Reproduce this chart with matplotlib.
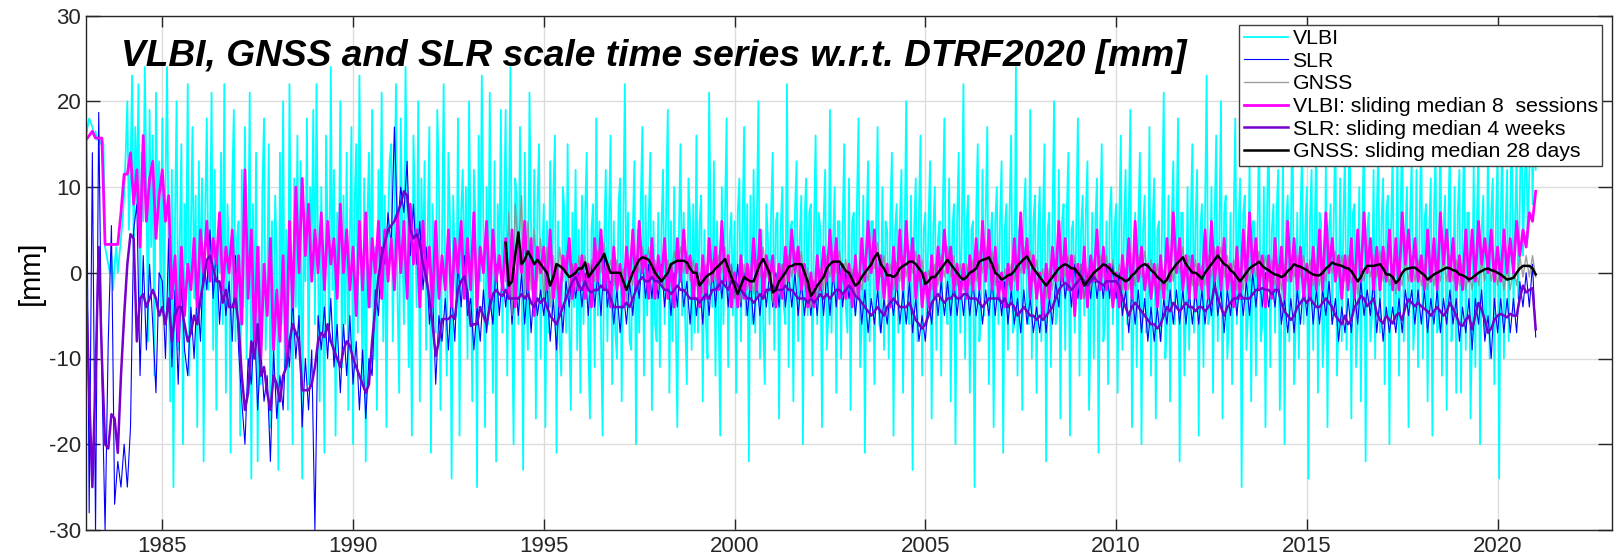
import matplotlib
matplotlib.use("Agg")
import matplotlib.pyplot as plt
import numpy as np

plt.rcParams['font.family'] = ['Liberation Sans', 'DejaVu Sans']
plt.rcParams['axes.unicode_minus'] = False

# VLBI scale per session (24 values per year, 1983.0 .. 2021.0) [mm]
vlbi = [
    16, 17, 18, 17.5, 17, 16, 16.5, 15.5, 16, 15, 15.5, 15, 3, 2, 1, 0, 2, -2, 1, 3, 0, 2, 4, 6,
    9, 14, 20, 5, 12, 23, 2, 17, 8, 22, -3, 14, 6, 24, 11, -8, 19, 3, 16, -12, 21, 7, 13, -5,
    18, -6, 10, 24, 2, -15, 12, -25, 6, 20, -9, 4, 15, -20, 8, 1, 22, -12, 5, 17, -3, 9, -18, 13,
    -4, 11, -22, 7, 18, -2, 3, 21, -9, 12, -16, 5, 0, 14, -6, 22, -14, 8, 2, -21, 10, 19, -8, 4,
    6, -19, 12, -4, 17, -10, 1, 21, -24, 8, -7, 14, -22, 3, -13, 10, 18, -9, -2, 15, -18, 6, -12, 9,
    2, -23, 14, -6, 20, -11, 5, -16, 22, 0, -20, 11, -4, 16, -9, 13, -24, 7, -1, 18, -13, 10, 3, 19,
    -6, 22, 1, -15, 10, -3, -21, 16, 5, -8, 24, -2, 12, -19, 7, 0, 20, -11, 9, -6, 14, -16, 4, 17,
    -20, 8, 15, -7, 23, 2, -13, 11, -22, 6, 14, -4, 19, -10, 3, -16, 12, 1, 21, -8, 9, -18, 5, 13,
    15, -8, 6, 22, -3, -14, 18, 4, -6, 24, 9, -11, 2, -19, 16, 7, -4, 20, -15, 11, 0, 13, -9, 5,
    17, -21, 8, 2, -7, 19, 11, -16, 4, 22, -2, -12, 14, 6, -24, 9, 1, -5, 18, -19, 7, 12, -3, 10,
    -10, 20, 3, -15, 12, 7, -25, 16, -1, 23, 5, -18, 10, -6, 21, 2, -14, 13, -22, 8, 0, 19, -7, 6,
    19, -12, 6, 24, -4, -20, 11, 9, -6, 17, 3, -23, 14, -2, -9, 21, 5, -4, 12, -17, 8, 15, -10, 2,
    8, -18, 6, -7, 13, -5, 9, 16, -21, 6, -8, -12, 10, 7, -7, 15, -6, -16, 7, -4, 12, -9, 5, -14,
    9, -6, 7, 14, -8, -17, 5, 8, -11, 18, -5, 6, -7, -19, 4, 12, -8, 6, 16, -13, 6, -7, -10, 8,
    11, -15, 6, 22, -4, 7, -8, -9, 5, 13, -20, 5, -7, 8, 17, -12, 9, -5, 6, 14, -16, 6, -6, -8,
    7, -11, 5, 12, -6, 8, 19, -14, 6, -8, 10, -5, -18, 5, 15, -5, 7, -6, -13, 11, 6, -9, 8, -7,
    16, -7, 6, 9, -15, 5, -6, -10, 21, 5, -4, 13, -12, 6, -5, -19, 10, -6, 7, 18, -11, 4, 7, -5,
    6, -14, 7, 11, -8, 5, 17, -5, 8, -22, 9, -6, 12, -7, 6, 20, -10, 5, -6, -13, 8, 4, -6, 7,
    14, -9, 6, 7, -17, 5, 10, -4, -6, 22, -11, 5, 6, -15, 7, 13, -8, 4, 9, -20, 6, 11, -5, 7,
    8, -12, 5, 16, -6, 7, 5, -18, 6, 12, -9, -5, 19, -7, 4, 10, -14, 6, 6, -10, 5, 15, -4, -7,
    11, -16, 6, 7, -5, 8, 18, -11, -6, 9, -21, 5, 13, -8, 6, 6, -13, 5, 17, -6, -7, 10, -9, 6,
    5, -10, 7, 14, -19, 5, 8, -7, 6, 12, -14, 4, 20, -5, -6, 9, -23, 5, 11, -8, 7, 16, -12, 5,
    7, -6, 6, 13, -17, 5, 10, -9, 4, 6, -12, 7, 18, -4, -6, 11, -15, 5, 8, -20, 6, 14, -7, 5,
    22, -10, 6, 9, -14, 5, 6, -25, 7, 15, -8, -5, 12, -5, 7, 17, -13, 4, 7, -18, 6, 10, -6, 6,
    13, -21, 5, 8, -9, 7, 16, -7, -6, 24, -12, 5, 6, -16, 7, 11, -5, -6, 19, -10, 6, 9, -14, 5,
    10, -8, 6, 15, -22, 5, 7, -11, 6, 20, -6, -5, 12, -17, 6, 8, -9, 7, 14, -19, 5, 6, -7, 6,
    18, -12, 5, 9, -5, 7, 13, -16, -6, 7, -10, 6, 11, -21, 5, 15, -8, -6, 6, -13, 7, 10, -6, 5,
    8, -14, 6, 16, -9, 5, 12, -6, 7, 19, -18, -5, 7, -11, 6, 14, -20, 5, 9, -7, -6, 17, -12, 6,
    11, -17, 5, 6, -8, 7, 21, -10, -6, 9, -15, 6, 13, -6, 5, 18, -22, 7, 7, -12, -5, 10, -9, 6,
    15, -7, 6, 12, -19, 5, 8, -11, 7, 23, -6, -5, 10, -14, 6, 16, -8, 5, 20, -17, 7, 9, -10, -6,
    7, -13, 6, 18, -6, 5, 11, -25, 7, 9, -9, -5, 14, -15, 6, 6, -12, 5, 17, -8, -6, 10, -18, 7,
    19, -11, 5, 8, -7, 7, 12, -16, -5, 15, -20, 6, 9, -8, 5, 21, -13, -6, 7, -10, 7, 14, -6, 5,
    10, -24, 6, 12, -9, 5, 16, -14, 7, 6, -11, -6, 13, -18, 5, 8, -6, 7, 17, -12, -5, 11, -8, 6,
    14, -9, 5, 20, -17, 7, 8, -11, -6, 10, -15, 6, 18, -22, 5, 7, -8, -5, 12, -10, 7, 15, -7, 6,
    11, -13, 7, 9, -20, 5, 14, -6, -6, 16, -12, 6, 19, -8, 5, 10, -18, 7, 13, -9, -5, 12, -11, 6,
    17, -10, 6, 8, -15, 5, 11, -19, 7, 14, -7, -6, 21, -12, 5, 9, -16, 6, 15, -8, -5, 10, -14, 7,
    12, -14, 5, 18, -9, 7, 7, -17, -6, 13, -11, 6, 15, -20, 5, 9, -7, -5, 16, -10, 7, 11, -13, 6,
    14, -24, 6, 17, -10, 5, 12, -8, 7, 19, -5, 6, 13, -3, 8, 22, 2, 10, 16, 4, 12, 26, 8, 18,
    12,
]

# SLR scale, weekly solutions thinned to 12 per year (1983.0 .. 2021.0)
slr = [
    26, -28, 14, -30, 18.7, -12, -30, -8, 5.5, -27, -22, -25,
    -20, -25, -18, 5, 8, -12, 2, -9, 1, -6, -14, 0,
    -1, -10, 4, -11, -2, -13, -1, -9, -12, -4, -10, -2,
    -8, 2, -2, 5, -3, 3, -6, 0, -5, -1, -8, 2,
    -9, -15, -20, -10, -13, -6, -16, -9, -15, -12, -22, -9,
    -17, -12, -16, -7, -11, -3, -10, -5, -18, -10, -16, -9,
    -30, -5, -9, -4, -10, -3, -11, -6, -14, -6, -12, -5,
    -13, -8, -16, -9, -17, -10, -12, -2, -5, 3, 1, 7,
    3, 17, 5, 10, 7, 13, 2, 8, 1, 6, -2, 3,
    -6, -2, -13, -5, -8, -3, -9, -2, -8, 1, -4, 2,
    -5, -3, -9, -4, -8, -2, -7, -3, -6, 1, -5, 0,
    -4, 0, -6, -1, -5, 0, -6, 0, -7, -1, -5, -2,
    -5, -1, -8, -3, -9, -2, -7, -1, -4, 1, -3, 0,
    -4, 0, -5, 1, -4, 0, -5, 2, -4, -1, -6, -2,
    -7, -2, -6, -1, -5, 0, -3, 2, -3, 1, -3, 1,
    -3, 1, -4, 0, -5, 0, -4, 1, -4, -1, -6, -1,
    -5, -1, -6, 0, -5, 1, -4, 1, -3, 1, -4, 1,
    -3, 1, -4, 0, -5, -1, -6, -1, -5, 0, -4, 0,
    -4, 0, -4, 1, -4, 0, -4, 0, -5, -1, -5, -1,
    -5, -1, -5, 0, -5, 0, -5, 0, -4, 1, -4, 0,
    -3, 0, -5, -1, -6, -2, -7, -3, -6, -2, -7, -3,
    -6, -2, -5, -1, -6, -2, -6, -1, -7, -3, -8, -5,
    -8, -3, -6, -1, -5, -1, -5, -1, -5, -1, -5, -1,
    -5, -1, -5, -1, -5, -2, -6, -2, -5, -1, -5, -1,
    -5, -1, -6, -2, -6, -3, -7, -2, -6, -3, -7, -4,
    -7, -3, -7, -3, -6, -1, -4, 1, -3, 0, -4, 1,
    -3, 1, -3, 0, -3, 1, -3, 0, -3, 1, -3, 1,
    -3, 0, -5, -2, -7, -2, -6, -2, -7, -3, -8, -4,
    -8, -4, -8, -3, -6, -2, -6, -2, -6, -2, -6, -2,
    -6, -2, -6, -2, -6, -2, -5, 0, -5, -2, -7, -2,
    -5, -1, -5, -1, -5, -1, -5, 0, -4, 0, -4, 0,
    -4, -1, -4, 0, -6, -3, -7, -3, -7, -2, -6, -1,
    -5, -1, -6, -2, -6, -2, -5, -1, -6, -3, -8, -4,
    -7, -3, -7, -2, -6, -1, -5, -2, -5, -1, -7, -3,
    -8, -4, -7, -4, -7, -3, -7, -2, -5, -2, -6, -2,
    -6, -2, -7, -3, -6, -2, -7, -3, -6, -2, -6, -3,
    -8, -4, -7, -3, -9, -3, -6, -2, -8, -5, -10, -3,
    -7, -3, -7, -3, -7, -3, -7, -1, -4, 0, -4, 1,
    -7.5,
]

# GNSS scale, daily solutions thinned to 12 per year (1994.0 .. 2021.0)
gnss = [
    -1, 7, -5, 8, 2, 9, -3, 6, -2, 5, -1, 4,
    -3, 3, -4, 2, -2, 3, -1, 2, -2, 1, -2, 2,
    -1, 2, -2, 1.5, -1, 2.5, 0, 3.5, -0.5, 1.5, -1.5, 1.5,
    -1.5, 0.5, -3.5, 0.5, -1.5, 2, 0, 3, 0.5, 3, -0.5, 1.5,
    -2, 0.5, -2, 1.5, -0.5, 2.5, 0, 3, 0, 2.5, -1, 1.5,
    -1.5, 0, -2.5, 1, -1.5, 1.5, -1, 2, 0, 3, -1, 1,
    -3, -1, -3.5, 1, -2, 0.5, -2.5, 1.5, -0.5, 3, -0.5, 1.5,
    -3.5, -0.5, -2.5, 1, -1.5, 2, -0.5, 2.5, -0.5, 2.5, -1.5, 0.5,
    -4, -1, -3, 0.5, -2, 2, -0.5, 2.5, 0, 2.5, -0.5, 1.5,
    -1.5, 0.5, -3, 0, -2, 1.5, -1, 2.5, 0.5, 3.5, -0.5, 2,
    -1.5, 1, -2, 1.2, -1, 2, -0.5, 2.5, 0, 2.5, -1, 1.5,
    -2.5, 0.3, -2, 1, -1.5, 2, -0.5, 3, -0.5, 2, -1.5, 1,
    -2, 1, -1.5, 1.5, -1, 2.5, 0, 3, 0.5, 2.5, -1.5, 1,
    -2, 0.5, -1.5, 1, -1, 2, 0, 3, 0.5, 2.5, -1, 1.5,
    -1.5, 0.5, -3, 0.5, -2, 1.5, -1, 2, -0.5, 2, -1, 2,
    -1.5, 1, -3, 0.5, -2, 1.5, -1, 2, -0.5, 2, -1, 1.5,
    -1.5, 1, -2, 0.5, -2, 1, -1.5, 2, -0.5, 2.5, -0.5, 1.5,
    -1.5, 1, -2, 0.3, -2, 1.5, -1, 2.5, 0, 3, -0.5, 2,
    -1.5, 1.5, -1.5, 0.8, -1.5, 2, -0.5, 3, 0.5, 3, -0.5, 2,
    -1, 1.5, -2, 0.5, -2, 1.5, -1, 2, -0.5, 2.5, -0.5, 2,
    -1, 1.5, -1.5, 1, -2, 1, -1, 2, -0.5, 2, -0.5, 2,
    -1, 1.5, -1.5, 1, -1.5, 1.5, -1, 2, 0, 2.5, -0.5, 2,
    -1, 2, -1.2, 1, -2.5, 1, -1, 2, -0.5, 2, -0.5, 2.5,
    -1, 1.3, -1.5, 1, -2.5, 0.5, -1.5, 1.5, -1, 2, -1, 1.5,
    -1.5, 1, -2, 1, -1.5, 1.5, -1, 1.5, -1, 2, -1, 1.5,
    -1.5, 1, -2, 0.5, -2, 1, -1.5, 1.5, -1, 2, -1, 1.5,
    -1.5, 1, -2, 0.5, -2, 0.5, -1.5, 2, -0.5, 2, -0.5, 2,
    -0.5,
]

# VLBI sliding median over 8 sessions (12 per year, 1983.0 .. 2021.0)
vlbi_med = [
    15.5, 16, 16.5, 15.7, 15.7, 15.7, 3.3, 3.3, 3.3, 3.3, 3.3, 7,
    11.5, 11.5, 14, 8, 12, 3, 16, 6, 11, 13, 4, 9,
    12, 6, 9, -3, 2, -8, 3, -5, 1, -2, 4, -4,
    5, 0, 6, -1, 4, 1, 7, -2, 3, 0, 5, -4,
    2, -6, 12, -3, 5, -8, 3, -10, 1, -5, 4, -9,
    -2, -8, 2, -10, 6, -4, 10, 0, 11, 2, 8, -1,
    5, 0, 7, -2, 6, 1, 4, -3, 8, 0, 5, -2,
    3, -5, 6, -2, 7, -4, 4, 0, 6, -3, 5, -1,
    4, -2, 7, 0, 6, -3, 8, 1, 5, -4, 6, -1,
    3, -4, 6, -3, 2, -2, 5, -4, 4, 0, 6, -3,
    4, -2, 7, -4, 3, 0, 6, -3, 5, -1, 2, -2,
    4, -3, 5, -4, 3, 0, 6, -2, 4, -5, 3, 0,
    3, -2, 5, -3, 1, -4, 2, 0, 4, -3, 1, -2,
    2, -3, 1, -4, 4, -1, 5, -2, 1, -4, 3, -2,
    1, -4, 3, -1, 5, -2, 6, 0, 2, -3, 4, -3,
    2, -1, 4, -3, 1, -4, 4, -1, 5, 0, 2, -3,
    1, -4, 2, -3, 4, -1, 3, -2, 6, -1, 2, -4,
    0, -4, 2, -3, 1, -2, 4, -2, 5, -3, 2, -1,
    2, -4, 1, -3, 3, -1, 5, 0, 3, -2, 1, -4,
    0, -4, 2, -2, 3, -1, 5, -1, 4, -3, 1, -3,
    1, -4, 2, -3, 4, -1, 6, 0, 5, -2, 2, -3,
    1, -4, 3, -2, 5, -2, 6, -1, 4, -3, 2, -4,
    0, -4, 2, -3, 3, -1, 5, 0, 3, -2, 1, -3,
    1, -3, 2, -2, 4, -2, 6, -1, 5, -2, 3, -3,
    0, -4, 1, -2, 4, -2, 7, 0, 4, -3, 2, -3,
    0, -5, 1, -3, 3, -1, 6, -1, 4, -2, 2, -5,
    1, -3, 3, -4, 2, -1, 5, -2, 3, -2, 1, -4,
    0, -4, 2, -2, 4, -3, 6, -1, 3, -2, 1, -3,
    1, -4, 2, -3, 4, -1, 7, 0, 4, -2, 2, -3,
    2, -3, 1, -2, 5, -3, 6, -1, 3, -2, 4, -2,
    1, -4, 3, -3, 5, -1, 7, 0, 4, -2, 2, -4,
    2, -3, 4, -2, 3, -3, 6, -1, 4, -2, 3, -3,
    1, -3, 3, -2, 5, -2, 7, 0, 4, -1, 2, -3,
    2, -2, 4, -3, 5, -1, 7, 0, 4, -2, 3, -2,
    3, -1, 5, -2, 4, -2, 7, 1, 5, -1, 4, -1,
    2, -2, 5, -1, 4, -2, 7, 1, 5, -1, 4, -2,
    2, -2, 5, -1, 5, -1, 6, 1, 4, 0, 5, -1,
    3, -1, 5, 0, 4, 0, 6, 2, 5, 3, 7, 6,
    9.5,
]

# SLR sliding median over 4 weeks (12 per year, 1983.0 .. 2021.0)
slr_med = [
    -1, -14, -25, -12, 3, -10, -20, -20.5, -16.5, -17, -21, -12,
    -5, 1, 4.5, 4, -8, -3, -2.5, -4, -3, -2, -3, -5,
    -4, -6, -3, -8, -5, -4, -4, -6, -8, -7, -5, -6,
    -3, -1, 1.5, 2, 0.5, -1, -1, -3.5, -2, -4, -4, -3,
    -6, -12, -16, -14, -8, -10, -6, -12, -11, -14, -16, -12,
    -13, -15, -12, -11, -8, -6, -7, -8, -13.7, -13.7, -13.7, -13,
    -11, -8, -7, -7.5, -6, -8, -9, -10, -11, -9, -8, -8.5,
    -10, -11, -12, -13, -14, -13, -8, -4, -0.5, 2, 3.5, 5,
    5.5, 6, 7, 8, 9.5, 9, 5, 4, 4.5, 3.5, 1, -0.5,
    -3, -6, -9.7, -8, -5.4, -5.4, -5.4, -5, -5.4, -2, -1, -0.4,
    -2.3, -6.2, -6, -6, -4, -5, -6, -4, -2.5, -2, -2.5, -2.7,
    -2, -3, -3, -3, -3, -2.5, -3, -2.5, -3.5, -4, -3, -3.5,
    -3, -4, -5, -5.5, -6, -5, -4, -3, -2, -1, -0.5, -1.5,
    -2, -1, -2, -2.3, -2, -2, -1.5, -2, -2, -3, -4, -4,
    -4, -4, -3.5, -4, -3, -2, -1, -0.5, -1, -1, -0.5, -1,
    -1, -1.5, -2, -2, -2.5, -2, -1.5, -2, -2, -2.5, -3, -3,
    -3, -3.5, -3, -2.5, -3, -2, -2, -1.5, -1, -1.5, -2, -1,
    -1, -1.5, -2, -2.5, -3, -3, -3.5, -3, -2.5, -3, -2, -2,
    -1.5, -2, -2, -2, -1.5, -2, -2, -2.5, -3, -3, -3, -3.5,
    -3, -3.5, -3, -2.5, -3, -2.5, -3, -2.5, -2, -2, -2.5, -2,
    -1.5, -2, -2.7, -3, -3.5, -4, -4.5, -5, -4.5, -4, -4.5, -5,
    -4, -3.5, -3, -3.5, -4, -4, -4, -3.5, -4.5, -5.5, -6, -6.5,
    -6, -5, -3.5, -3, -2.5, -3, -3.5, -3, -3, -2.5, -3, -3,
    -2.5, -2.5, -3, -3, -3, -3.5, -4, -3.5, -3, -3, -3, -3,
    -3.5, -3, -4, -3.5, -4, -5, -4.5, -4, -4.5, -5, -5, -5.5,
    -5, -5.5, -5, -4.5, -4, -3, -2, -1.5, -1.2, -1.5, -2, -1.5,
    -1, -0.5, -1, -1.5, -1, -0.5, -1, -1.2, -1.5, -1, -1, -1,
    -1, -1.5, -3, -4, -5, -4, -3.5, -4, -4.5, -5, -5.5, -6,
    -6, -6.5, -6, -5, -4, -4.5, -3.5, -4, -4.5, -4, -3.5, -4,
    -4, -4.5, -4, -4, -4.5, -4, -3.5, -1.5, -3, -4, -5, -4,
    -3.5, -3, -3, -2.5, -3, -3, -3, -2.5, -2, -2, -1.8, -2,
    -2, -2.5, -2, -2, -3.5, -4.5, -5, -5.5, -5, -4, -3.5, -3,
    -3.5, -3, -3.5, -4, -4, -3.5, -3, -3.5, -4, -5, -5.5, -6,
    -5, -6, -5.5, -4, -3.5, -2.7, -3, -3.9, -3.5, -3, -4.7, -5.5,
    -5.9, -5, -5.5, -5.9, -5, -4.7, -5.5, -4, -3.1, -3.5, -3.9, -3.5,
    -3.9, -4.2, -4.5, -5, -4.5, -4, -4.5, -5, -4.5, -3.5, -4.2, -5,
    -6, -6.2, -5.5, -5, -6.6, -5, -3.5, -4.3, -5.5, -7, -6.5, -5.5,
    -5, -4.8, -5, -5.2, -4.8, -5, -5, -3, -1.5, -2.3, -2, -1.8,
    -6.6,
]

# GNSS sliding median over 28 days (12 per year, 1994.0 .. 2021.0)
gnss_med = [
    3.5, -1.5, -1.0, 2.0, 4.7, 1.0, 1.5, 2.5, 1.8, 1.0, 1.5, 1.0,
    0.5, 0, -1.5, -0.5, 1.0, 0.8, 0.5, 0, -0.5, -0.3, 0, 0.5,
    0.5, 1.2, -0.5, 0, 0.5, 1.0, 1.5, 2.2, 1.0, 0, 0, 0,
    0, -1.0, -2.0, -1.0, 0, 0.8, 1.5, 1.8, 1.7, 1.5, 0.8, 0,
    -0.5, -1.0, -0.5, 0, 1.0, 1.2, 1.4, 1.4, 1.4, 1.2, 0.5, 0,
    0, -1.5, -1.0, -0.5, -0.2, 0, 0.5, 0.8, 1.2, 1.6, 0.5, -0.5,
    -1.5, -2.5, -1.5, -0.5, -0.8, -1.0, -1.0, 0, 1.0, 1.6, 0.8, 0,
    -2.3, -2.0, -1.0, -0.5, 0, 0.7, 0.8, 1.0, 1.0, 1.0, 0, -1.0,
    -2.7, -2.2, -1.5, -1.0, -0.5, 0.5, 1.0, 1.3, 1.3, 1.3, 0.8, 0.2,
    0, -0.8, -1.5, -1.2, -0.5, 0, 0.5, 1.0, 1.8, 2.3, 1.0, 0.5,
    -0.3, -0.3, -0.5, -0.2, 0.5, 0.8, 1.0, 1.3, 1.3, 1.0, 0.5, 0,
    -1.3, -1.0, -0.5, -0.5, 0, 0.5, 1.0, 1.5, 1.0, 0.5, 0, -0.5,
    -0.8, -0.5, 0, 0.2, 0.5, 1.3, 1.5, 1.6, 1.8, 1.0, 0, -0.3,
    -0.8, -0.6, -0.3, -0.2, 0.2, 0.8, 1.2, 1.6, 1.9, 1.2, 0.5, 0,
    -0.5, -1.0, -1.5, -1.0, -0.5, 0, 0.5, 0.8, 1.0, 0.8, 0.5, 0.5,
    0, -0.5, -1.5, -1.0, -0.5, 0, 0.3, 0.6, 1.0, 0.8, 0.5, 0,
    -0.3, -0.5, -0.7, -1.0, -0.8, -0.3, 0, 0.5, 0.8, 1.0, 0.8, 0.3,
    0, -0.5, -0.8, -1.2, -0.8, 0, 0.5, 1.0, 1.4, 1.8, 1.0, 0.5,
    0, 0, -0.3, -0.7, 0, 0.5, 1.0, 1.5, 2.0, 1.5, 1.0, 0.8,
    0.3, 0, -0.5, -1.0, -0.5, 0, 0.5, 0.8, 1.0, 1.3, 0.8, 0.5,
    0.3, 0, -0.2, -0.3, -0.5, -0.3, 0.2, 0.5, 1.0, 0.8, 0.7, 0.5,
    0.3, 0, -0.2, -0.3, -0.3, 0, 0.5, 0.8, 1.2, 1.0, 0.9, 0.8,
    0.6, 0.5, 0.2, -0.4, -1.0, -0.5, 0.3, 0.8, 0.8, 0.8, 0.9, 1.0,
    0.5, -0.2, -0.2, -0.5, -1.2, -0.8, 0, 0.4, 0.5, 0.6, 0.6, 0.3,
    0, -0.3, -0.8, -0.5, -0.2, 0, 0.2, 0.4, 0.6, 0.5, 0.3, 0.2,
    -0.2, -0.3, -0.5, -0.8, -0.6, -0.3, 0, 0.2, 0.4, 0.5, 0.3, 0.2,
    0, -0.2, -0.5, -0.8, -0.7, -0.6, 0, 0.5, 0.8, 0.8, 0.8, 0.5,
    -0.2,
]


def epochs(values, start, end=2021.0):
    return np.linspace(start, end, len(values))


fig = plt.figure(figsize=(16.17, 5.56), dpi=100)
ax = fig.add_axes([86 / 1617, 26 / 556, 1526 / 1617, 514.5 / 556])

ax.plot(epochs(vlbi, 1983.0), vlbi, color='#00ffff', lw=1.3, label='VLBI')
ax.plot(epochs(slr, 1983.0), slr, color='#0000ff', lw=0.8, label='SLR')
ax.plot(epochs(gnss, 1994.0), gnss, color='#888888', lw=1.0, alpha=0.8, label='GNSS')
ax.plot(epochs(vlbi_med, 1983.0), vlbi_med, color='#ff00ff', lw=2.0,
        label='VLBI: sliding median 8  sessions')
ax.plot(epochs(slr_med, 1983.0), slr_med, color='#7700cc', lw=1.8,
        label='SLR: sliding median 4 weeks')
ax.plot(epochs(gnss_med, 1994.0), gnss_med, color='black', lw=1.8,
        label='GNSS: sliding median 28 days')

ax.set_xlim(1983, 2023)
ax.set_ylim(-30, 30)
ax.set_xticks(range(1985, 2021, 5))
ax.set_yticks(range(-30, 31, 10))
ax.grid(True, color='#dcdcdc', lw=1.0)
ax.tick_params(axis='both', direction='in', top=True, right=True,
               labelsize=16, colors='#262626', width=1.0)
ax.tick_params(axis='y', length=10)
ax.tick_params(axis='x', length=8, pad=4)
for s in ax.spines.values():
    s.set_color('#262626')
    s.set_linewidth(1.0)

ax.set_ylabel('[mm]', fontsize=21, labelpad=3)

ax.text(0.023, 0.92, 'VLBI, GNSS and SLR scale time series w.r.t. DTRF2020 [mm]',
        transform=ax.transAxes, fontsize=26.7, fontweight='bold', fontstyle='italic',
        ha='left', va='center')

leg = ax.legend(loc='upper right', bbox_to_anchor=(0.9934, 0.9815), borderaxespad=0,
                fontsize=15.3, fancybox=False, framealpha=1, edgecolor='#404040',
                handlelength=2.1, handletextpad=0.2, labelspacing=0.17,
                borderpad=0.2)
leg.get_frame().set_linewidth(1.0)

fig.savefig('out.png', dpi=100)
